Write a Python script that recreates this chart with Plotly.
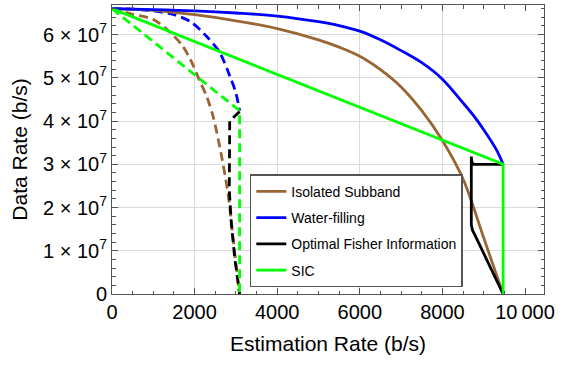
import plotly.graph_objects as go

# ---- data (Estimation Rate in b/s, Data Rate in b/s) ----
series_names = ["Isolated Subband", "Water-filling", "Optimal Fisher Information", "SIC"]
series_colors = ["#996633", "#0000FF", "#000000", "#00FF00"]

# solid curves
brown_x = [0, 1000, 2000, 3000, 4000, 5000, 5500, 6000, 6500, 7000, 7500, 8000, 8500, 9000, 9470]
brown_y = [6.60e7, 6.56e7, 6.46e7, 6.32e7, 6.14e7, 5.88e7, 5.71e7, 5.50e7, 5.19e7, 4.79e7, 4.24e7, 3.55e7, 2.66e7, 1.30e7, 0]

blue_x = [0, 1000, 2000, 3000, 4000, 5000, 5500, 6000, 6500, 7000, 7500, 8000, 8500, 8750, 9000, 9300, 9470]
blue_y = [6.60e7, 6.58e7, 6.55e7, 6.50e7, 6.43e7, 6.30e7, 6.21e7, 6.08e7, 5.88e7, 5.63e7, 5.35e7, 4.97e7, 4.42e7, 4.13e7, 3.80e7, 3.35e7, 3.00e7]

black_x = [9470, 8750, 8712, 8700, 8700, 8730, 8780, 9470]
black_y = [3.00e7, 3.00e7, 3.06e7, 3.18e7, 1.60e7, 1.47e7, 1.38e7, 0]

green_x = [0, 9470, 9470]
green_y = [6.60e7, 3.00e7, 0]

# dashed curves
brown_d_x = [0, 500, 1000, 1400, 1700, 1900, 2120, 2300, 2450, 2610, 2810, 2930, 3010, 3090]
brown_d_y = [6.60e7, 6.47e7, 6.35e7, 6.06e7, 5.75e7, 5.42e7, 4.94e7, 4.55e7, 4.10e7, 3.40e7, 2.32e7, 1.30e7, 0.62e7, 0]

blue_d_x = [0, 500, 1000, 1500, 1900, 2300, 2600, 2850, 3000, 3090]
blue_d_y = [6.60e7, 6.59e7, 6.55e7, 6.46e7, 6.30e7, 5.95e7, 5.60e7, 5.05e7, 4.65e7, 4.24e7]

black_d_x = [3090, 2850, 2840, 2890, 2970, 3090]
black_d_y = [4.22e7, 4.00e7, 2.40e7, 1.63e7, 0.85e7, 0]

green_d_x = [0, 3090, 3090]
green_d_y = [6.60e7, 4.24e7, 0]

x_tickvals = [0, 2000, 4000, 6000, 8000, 10000]
x_ticktext = ["0", "2000", "4000", "6000", "8000", "10\u2009000"]
y_tickvals = [0, 1e7, 2e7, 3e7, 4e7, 5e7, 6e7]
y_ticktext = ["0"] + [f"{k} × 10<sup>7</sup>" for k in range(1, 7)]

FONT = "Liberation Sans, Arial, sans-serif"
LW = 2.8
DASH = "9px,5px"

fig = go.Figure()

dashed = [(brown_d_x, brown_d_y, "spline"), (blue_d_x, blue_d_y, "spline"),
          (black_d_x, black_d_y, "linear"), (green_d_x, green_d_y, "linear")]
solid = [(brown_x, brown_y, "spline"), (blue_x, blue_y, "spline"),
         (black_x, black_y, "linear"), (green_x, green_y, "linear")]

for i, (xs, ys, shp) in enumerate(dashed):
    fig.add_trace(go.Scatter(x=xs, y=ys, mode="lines", showlegend=False,
                             line=dict(color=series_colors[i], width=LW, dash=DASH, shape=shp,
                                       smoothing=0.8)))
for i, (xs, ys, shp) in enumerate(solid):
    fig.add_trace(go.Scatter(x=xs, y=ys, mode="lines", name=series_names[i],
                             legendgroup=f"g{i}",
                             line=dict(color=series_colors[i], width=LW, shape=shp, smoothing=1.0)))

# overlay axis used only to draw grid lines at interior major x ticks
fig.add_trace(go.Scatter(x=[0], y=[0], xaxis="x2", mode="markers", marker=dict(opacity=0),
                         showlegend=False, hoverinfo="skip"))

axis_common = dict(showline=True, linecolor="#555555", linewidth=1, mirror="ticks",
                   ticks="inside", ticklen=6, tickcolor="#555555", tickwidth=1,
                   zeroline=False, automargin=False,
                   tickfont=dict(family=FONT, size=20, color="black"))

fig.update_layout(
    template="none",
    width=563, height=365,
    margin=dict(l=112, r=19, t=5, b=71, pad=0),
    paper_bgcolor="white", plot_bgcolor="white",
    font=dict(family=FONT, color="black"),
    xaxis=dict(range=[0, 10460], tickvals=x_tickvals, ticktext=x_ticktext, showgrid=False,
               minor=dict(dtick=500, tick0=0, ticks="inside", ticklen=3.5, tickcolor="#555555",
                          showgrid=False),
               title=dict(text="Estimation Rate (b/s)", font=dict(family=FONT, size=21), standoff=14),
               **axis_common),
    xaxis2=dict(overlaying="x", range=[0, 10460], tickvals=[2000, 4000, 6000, 8000], showgrid=True,
                gridcolor="#dadada", gridwidth=1, showticklabels=False, ticks="", showline=False,
                zeroline=False, side="top", automargin=False),
    yaxis=dict(range=[0, 6.685e7], tickvals=y_tickvals, ticktext=y_ticktext, showgrid=True,
               gridcolor="#dadada", gridwidth=1,
               minor=dict(dtick=2e6, tick0=0, ticks="inside", ticklen=3.5, tickcolor="#555555",
                          showgrid=False),
               title=dict(text="Data Rate (b/s)", font=dict(family=FONT, size=21), standoff=9),
               **axis_common),
    legend=dict(x=0.319, y=0.414, xanchor="left", yanchor="top",
                bgcolor="white", bordercolor="#555555", borderwidth=1.5,
                font=dict(family=FONT, size=14, color="black"),
                tracegroupgap=5, itemwidth=30),
)

# remove the browser's default 8px page margin so the figure sits at the window origin
fig.write_html("out.html", config={"displayModeBar": False},
               post_script="document.body.style.margin='0';")
